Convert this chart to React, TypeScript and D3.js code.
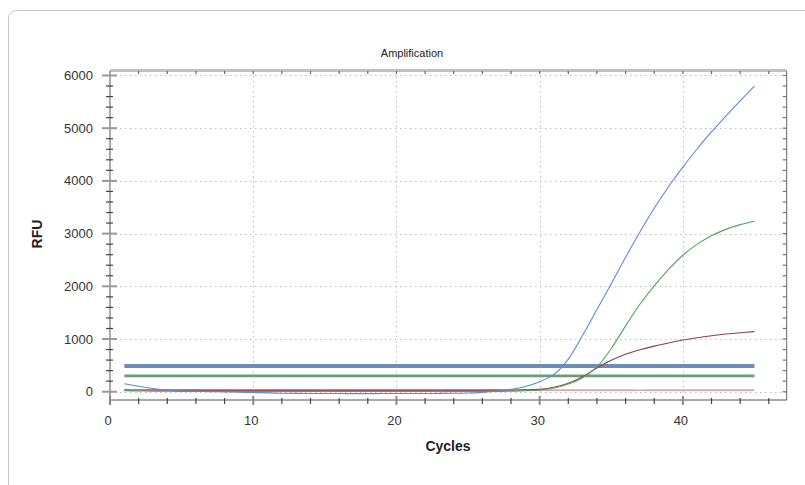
import React, { useEffect, useRef } from 'react';
import * as d3 from 'd3';

// amplification data (RFU per cycle)
const cycles = [1, 2, 3, 4, 5, 6, 7, 8, 9, 10, 11, 12, 13, 14, 15, 16, 17, 18, 19, 20, 21, 22, 23, 24, 25, 26, 27, 28, 29, 30, 31, 32, 33, 34, 35, 36, 37, 38, 39, 40, 41, 42, 43, 44, 45];

const blueRFU = [150, 105, 60, 28, 12, 6, 2, -3, -8, -15, -22, -28, -32, -34, -35, -35, -36, -36, -35, -35, -34, -33, -32, -30, -25, -12, 10, 45, 100, 190, 330, 620, 1070, 1560, 2050, 2550, 3030, 3480, 3890, 4260, 4610, 4930, 5230, 5520, 5800];
const greenRFU = [20, 15, 10, 8, 6, 5, 5, 5, 5, 5, 4, 4, 4, 4, 4, 4, 4, 4, 4, 4, 4, 4, 4, 5, 5, 5, 7, 11, 18, 32, 70, 145, 265, 470, 820, 1250, 1660, 2010, 2320, 2590, 2800, 2960, 3080, 3170, 3235];
const brownRFU = [35, 33, 32, 31, 30, 30, 30, 30, 30, 30, 30, 30, 30, 30, 30, 30, 30, 30, 30, 30, 30, 30, 30, 30, 30, 30, 30, 32, 36, 45, 85, 160, 285, 450, 595, 710, 795, 865, 925, 980, 1025, 1063, 1095, 1120, 1140];
const redRFU = [32, 31, 30, 30, 30, 31, 30, 30, 29, 30, 30, 31, 30, 30, 29, 30, 30, 30, 31, 30, 30, 30, 29, 30, 30, 30, 31, 30, 30, 30, 30, 31, 30, 30, 30, 30, 29, 30, 30, 30, 31, 30, 30, 30, 30];

const thresholds = [490, 300];
const thresholdColors = ['#6d8db5', '#6b9c78'];
const thresholdWidths = [4, 2.6];

const xTickLabels = [0, 10, 20, 30, 40];
const yTickLabels = [0, 1000, 2000, 3000, 4000, 5000, 6000];

const W = 805, H = 485;
const left = 110, right = 786.7, top = 71, bottom = 400;

export default function App() {
  const ref = useRef<SVGSVGElement>(null);

  useEffect(() => {
    const svg = d3.select(ref.current);
    svg.selectAll('*').remove();

    const x = d3.scaleLinear().domain([0, 47.25]).range([left, right]);
    const y = d3.scaleLinear().domain([-157, 6085]).range([bottom, top]);

    // card
    svg.append('rect')
      .attr('x', 8.5).attr('y', 10.5)
      .attr('width', 820).attr('height', 500)
      .attr('rx', 8)
      .attr('fill', '#fff')
      .attr('stroke', '#c4c4c4');

    // grid
    const grid = svg.append('g').attr('stroke', '#bdbdbd').attr('stroke-width', 1).attr('stroke-dasharray', '1.5,3.5');
    grid.selectAll('line.h')
      .data(yTickLabels)
      .join('line')
      .attr('x1', left).attr('x2', right)
      .attr('y1', d => Math.round(y(d)) + 0.5).attr('y2', d => Math.round(y(d)) + 0.5);
    grid.selectAll('line.v')
      .data(xTickLabels.filter(d => d > 0))
      .join('line')
      .attr('class', 'v')
      .attr('y1', top).attr('y2', bottom)
      .attr('x1', d => Math.round(x(d)) + 0.5).attr('x2', d => Math.round(x(d)) + 0.5);

    // thresholds
    svg.append('g').selectAll('line')
      .data(thresholds)
      .join('line')
      .attr('x1', x(1)).attr('x2', x(45))
      .attr('y1', d => y(d)).attr('y2', d => y(d))
      .attr('stroke', (d, i) => thresholdColors[i])
      .attr('stroke-width', (d, i) => thresholdWidths[i]);

    // curves
    const series = [
      { v: redRFU, c: '#c98585' },
      { v: brownRFU, c: '#8f3f3f' },
      { v: greenRFU, c: '#4fa55f' },
      { v: blueRFU, c: '#5e88d8' },
    ];
    const line = d3.line<number>()
      .x((d, i) => x(cycles[i]))
      .y(d => y(d))
      .curve(d3.curveCatmullRom.alpha(0.5));
    svg.append('g').selectAll('path')
      .data(series)
      .join('path')
      .attr('d', d => line(d.v))
      .attr('fill', 'none')
      .attr('stroke', d => d.c)
      .attr('stroke-width', 1.1);

    // frame
    svg.append('line').attr('x1', left).attr('x2', right).attr('y1', top - 0.5).attr('y2', top - 0.5)
      .attr('stroke', '#c0c0c0').attr('stroke-width', 3);
    svg.append('line').attr('x1', left).attr('x2', left).attr('y1', top).attr('y2', bottom)
      .attr('stroke', '#555');
    svg.append('line').attr('x1', right).attr('x2', right).attr('y1', top).attr('y2', bottom)
      .attr('stroke', '#666');
    svg.append('line').attr('x1', left).attr('x2', right).attr('y1', bottom).attr('y2', bottom)
      .attr('stroke', '#555');

    const minorX = x.ticks(24).filter(d => d % 2 === 0 && d % 10 !== 0 && d <= 46);
    const majorX = xTickLabels;
    const minorY = y.ticks(30).filter(d => d % 200 === 0 && d % 1000 !== 0 && d >= 0 && d <= 6000);

    const ticks = svg.append('g').attr('stroke', '#444').attr('stroke-width', 1.2);
    // bottom minor ticks
    ticks.selectAll('line.bx').data(minorX).join('line').attr('class', 'bx')
      .attr('x1', d => x(d)).attr('x2', d => x(d)).attr('y1', bottom - 2).attr('y2', bottom + 4);
    ticks.selectAll('line.bX').data(majorX).join('line').attr('class', 'bX')
      .attr('x1', d => x(d)).attr('x2', d => x(d)).attr('y1', bottom - 4).attr('y2', bottom + 5)
      .attr('stroke', '#888').attr('stroke-width', 2);
    // top ticks
    ticks.selectAll('line.tx').data(minorX.concat(majorX.filter(d => d > 0))).join('line').attr('class', 'tx')
      .attr('x1', d => x(d)).attr('x2', d => x(d)).attr('y1', top).attr('y2', top + 3)
      .attr('stroke', '#666');
    // left ticks
    ticks.selectAll('line.ly').data(minorY).join('line').attr('class', 'ly')
      .attr('x1', left - 4).attr('x2', left + 3).attr('y1', d => y(d)).attr('y2', d => y(d));
    ticks.selectAll('line.lY').data(yTickLabels).join('line').attr('class', 'lY')
      .attr('x1', left - 8).attr('x2', left + 7).attr('y1', d => y(d)).attr('y2', d => y(d))
      .attr('stroke', '#999').attr('stroke-width', 2);
    // right ticks
    ticks.selectAll('line.ry').data(minorY.concat(yTickLabels)).join('line').attr('class', 'ry')
      .attr('x1', right - 4).attr('x2', right).attr('y1', d => y(d)).attr('y2', d => y(d))
      .attr('stroke', '#777');

    // tick labels
    const font = 'Liberation Sans, Arial, sans-serif';
    svg.append('g').selectAll('text').data(yTickLabels).join('text')
      .attr('x', left - 17).attr('y', d => y(d)).attr('dy', '0.35em')
      .attr('text-anchor', 'end')
      .attr('font-family', font).attr('font-size', 13).attr('fill', '#333')
      .text(d => d);
    svg.append('g').selectAll('text').data(xTickLabels).join('text')
      .attr('x', d => x(d) - 2).attr('y', 425)
      .attr('text-anchor', 'middle')
      .attr('font-family', font).attr('font-size', 13).attr('fill', '#333')
      .text(d => d);

    // titles
    svg.append('text').attr('x', 412).attr('y', 57).attr('text-anchor', 'middle')
      .attr('font-family', font).attr('font-size', 11).attr('fill', '#222')
      .text('Amplification');
    svg.append('text').attr('x', 448).attr('y', 451).attr('text-anchor', 'middle')
      .attr('font-family', font).attr('font-size', 14).attr('font-weight', 'bold').attr('fill', '#222')
      .text('Cycles');
    svg.append('text').attr('transform', 'translate(42,234) rotate(-90)').attr('text-anchor', 'middle')
      .attr('font-family', font).attr('font-size', 14).attr('font-weight', 'bold').attr('fill', '#222')
      .text('RFU');
  }, []);

  return (
    <svg ref={ref} width={W} height={H} style={{ position: 'absolute', left: 0, top: 0, background: '#fff' }} />
  );
}
